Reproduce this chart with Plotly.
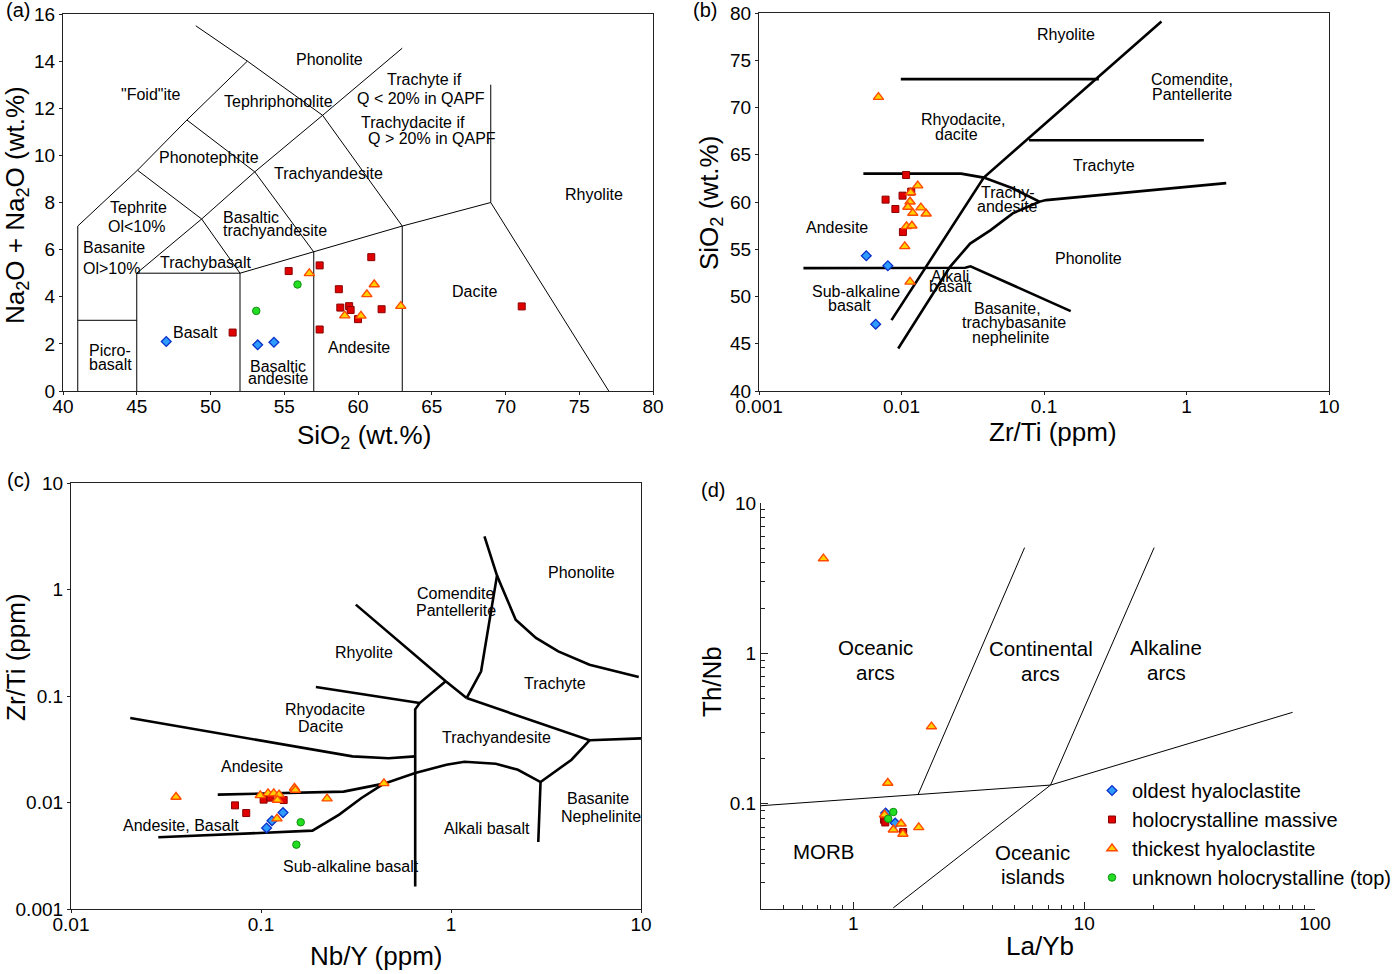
import numpy as np
import plotly.graph_objects as go

W, H = 1400, 974
FONT = "Liberation Sans, Arial, Helvetica, sans-serif"

# ---------------- Panel (a): TAS  (SiO2 vs Na2O+K2O) ----------------
a_oldest_x = [47.0, 53.2, 54.3]
a_oldest_y = [2.10, 1.96, 2.07]
a_massive_x = [51.5, 55.3, 57.4, 60.9, 58.7, 58.8, 59.4, 59.5, 60.0, 61.6, 57.4, 71.1]
a_massive_y = [2.48, 5.09, 5.33, 5.68, 4.32, 3.54, 3.60, 3.44, 3.05, 3.47, 2.61, 3.59]
a_thick_x = [56.7, 61.1, 60.6, 62.9, 59.1, 60.2]
a_thick_y = [4.99, 4.52, 4.10, 3.60, 3.20, 3.19]
a_unknown_x = [55.9, 53.1]
a_unknown_y = [4.52, 3.40]

a_lines = [
    [(41, 0), (41, 7), (45.05, 9.37), (48.4, 11.5), (52.5, 14.0), (57.6, 11.7), (63, 7), (63, 0)],
    [(49.0, 15.5), (52.5, 14.0)],
    [(41, 3), (45, 3)],
    [(45, 0), (45, 5), (52, 5), (52, 0)],
    [(45, 5), (49.4, 7.3), (52, 5)],
    [(45.05, 9.37), (49.4, 7.3)],
    [(49.4, 7.3), (53, 9.3), (57.6, 11.7), (63, 14.55)],
    [(48.4, 11.5), (53, 9.3), (57, 5.9)],
    [(52, 5), (57, 5.9), (63, 7), (69, 8), (77.0, 0)],
    [(57, 5.9), (57, 0)],
    [(69, 8), (69, 13)],
]
a_labels = [
    ("Phonolite", 58.1, 14.06, "center"), ("Trachyte if", 64.5, 13.2, "center"),
    ("Q &lt; 20% in QAPF", 64.3, 12.4, "center"), ("Trachydacite if", 63.7, 11.4, "center"),
    ("Q &gt; 20% in QAPF", 65.0, 10.7, "center"), ('"Foid"ite', 45.9, 12.6, "center"),
    ("Tephriphonolite", 54.6, 12.3, "center"), ("Phonotephrite", 49.9, 9.93, "center"),
    ("Trachyandesite", 58.0, 9.25, "center"), ("Rhyolite", 76.0, 8.36, "center"),
    ("Tephrite", 45.1, 7.78, "center"), ("Ol&lt;10%", 45.0, 6.97, "center"),
    ("Basaltic", 50.7, 7.38, "left"), ("trachyandesite", 50.7, 6.83, "left"),
    ("Basanite", 41.2, 6.1, "left"), ("Ol&gt;10%", 41.2, 5.2, "left"),
    ("Trachybasalt", 49.7, 5.46, "center"), ("Dacite", 67.9, 4.24, "center"),
    ("Basalt", 49.0, 2.47, "center"), ("Andesite", 60.1, 1.84, "center"),
    ("Picro-", 43.2, 1.70, "center"), ("basalt", 43.2, 1.13, "center"),
    ("Basaltic", 54.6, 1.05, "center"), ("andesite", 54.6, 0.51, "center"),
]

# ---------------- Panel (b): Zr/Ti vs SiO2 ----------------
b_oldest_x = [0.00566, 0.00802, 0.00659]
b_oldest_y = [54.31, 53.25, 47.07]
b_massive_x = [0.01077, 0.0117, 0.01017, 0.00773, 0.00906, 0.01023]
b_massive_y = [62.86, 61.1, 60.67, 60.25, 59.26, 56.82]
b_thick_x = [0.00689, 0.0130, 0.01159, 0.01148, 0.01109, 0.01368, 0.0120, 0.0149, 0.01084, 0.01183, 0.01054, 0.01148]
b_thick_y = [71.1, 61.73, 61.0, 60.03, 59.47, 59.4, 58.83, 58.76, 57.42, 57.49, 55.3, 51.55]

b_lines = [
    [(0.00989, 73.0), (0.2426, 73.0)],
    [(0.0785, 66.54), (1.324, 66.54)],
    [(0.667, 79.1), (0.0378, 62.58), (0.00851, 47.5)],
    [(0.0054, 63.0), (0.0262, 63.0), (0.0378, 62.58), (0.0602, 61.45), (0.0929, 60.03),
     (0.1035, 60.2), (1.90, 62.0)],
    [(0.0929, 60.03), (0.08, 59.6), (0.0603, 58.8), (0.042, 57.0), (0.0303, 55.6),
     (0.0219, 53.14), (0.00948, 44.49)],
    [(0.00205, 53.0), (0.028, 53.05), (0.0305, 53.2), (0.154, 48.45)],
]
b_labels = [
    ("Rhyolite", 0.143, 77.70), ("Comendite,", 1.10, 72.93), ("Pantellerite", 1.10, 71.38),
    ("Rhyodacite,", 0.0272, 68.69), ("dacite", 0.0244, 67.17), ("Trachyte", 0.264, 63.85),
    ("Trachy-", 0.0558, 60.99), ("andesite", 0.0558, 59.51), ("Andesite", 0.00354, 57.28),
    ("Phonolite", 0.205, 53.99), ("Alkali", 0.0219, 52.16), ("basalt", 0.0219, 51.02),
    ("Sub-alkaline", 0.0048, 50.57), ("basalt", 0.0043, 49.05), ("Basanite,", 0.0558, 48.73),
    ("trachybasanite", 0.0614, 47.2), ("nephelinite", 0.0588, 45.65),
]

# ---------------- Panel (c): Nb/Y vs Zr/Ti ----------------
c_oldest_x = [0.107, 0.1142, 0.1306]
c_oldest_y = [0.00577, 0.00675, 0.00804]
c_massive_x = [0.0730, 0.0836, 0.1032, 0.112, 0.1316]
c_massive_y = [0.0094, 0.00796, 0.01064, 0.0111, 0.01055]
c_thick_x = [0.0357, 0.0991, 0.1089, 0.1167, 0.1245, 0.122, 0.150, 0.1517, 0.2228, 0.4436, 0.1214]
c_thick_y = [0.01127, 0.01167, 0.01219, 0.01219, 0.01185, 0.01055, 0.01368, 0.0131, 0.01087, 0.01513, 0.00705]
c_unknown_x = [0.1618, 0.1535]
c_unknown_y = [0.00652, 0.00402]

c_lines = [
    [(0.0205, 0.0621), (0.121, 0.0356), (0.303, 0.0271), (0.469, 0.026), (0.648, 0.0271)],
    [(0.1945, 0.1217), (0.684, 0.0859)],
    [(0.648, 0.00163), (0.648, 0.075), (0.684, 0.0859), (0.938, 0.1374)],
    [(0.3155, 0.721), (0.938, 0.1374), (1.208, 0.0957)],
    [(1.208, 0.0957), (5.36, 0.0384), (10.0, 0.040)],
    [(1.5, 3.15), (1.746, 1.35), (1.63, 0.647), (1.44, 0.1706), (1.208, 0.0957)],
    [(1.746, 1.35), (2.19, 0.521), (2.8, 0.351), (3.67, 0.2626), (5.36, 0.197), (9.73, 0.1507)],
    [(0.0592, 0.01186), (0.272, 0.01265), (0.4436, 0.01503), (0.648, 0.0189), (0.946, 0.0226),
     (1.177, 0.0241), (1.72, 0.0231), (2.25, 0.0203), (2.96, 0.01556), (4.31, 0.0252), (5.36, 0.0384)],
    [(2.96, 0.01556), (2.88, 0.00426)],
    [(0.0288, 0.00471), (0.1866, 0.00544), (0.258, 0.00769), (0.338, 0.01102), (0.4436, 0.01503)],
]
c_labels = [
    ("Phonolite", 4.89, 1.43), ("Comendite", 1.057, 0.914), ("Pantellerite", 1.057, 0.632),
    ("Rhyolite", 0.3476, 0.2535), ("Trachyte", 3.52, 0.1297), ("Rhyodacite", 0.216, 0.0755),
    ("Dacite", 0.2047, 0.0519), ("Trachyandesite", 1.746, 0.0404), ("Andesite", 0.0897, 0.0219),
    ("Basanite", 5.97, 0.0108), ("Nephelinite", 6.13, 0.00741), ("Andesite, Basalt", 0.0377, 0.00605),
    ("Alkali basalt", 1.54, 0.00564), ("Sub-alkaline basalt", 0.296, 0.00248),
]

# ---------------- Panel (d): La/Yb vs Th/Nb ----------------
d_oldest_x = [1.38, 1.518]
d_oldest_y = [0.0867, 0.0744]
d_massive_x = [1.357, 1.375, 1.644]
d_massive_y = [0.0783, 0.0751, 0.0649]
d_thick_x = [0.742, 2.18, 1.41, 1.365, 1.61, 1.49, 1.92, 1.64]
d_thick_y = [4.27, 0.326, 0.1374, 0.0845, 0.0736, 0.0672, 0.0696, 0.0629]
d_unknown_x = [1.49, 1.416]
d_unknown_y = [0.0881, 0.0795]

d_lines = [
    [(0.398, 0.0970), (1.906, 0.1148), (7.15, 0.1331), (80.0, 0.4055)],
    [(1.906, 0.1148), (5.52, 5.05)],
    [(7.15, 0.1331), (20.1, 5.05)],
    [(7.15, 0.1331), (1.49, 0.0203)],
]
d_labels = [
    ("Oceanic", 1.249, 1.09), ("arcs", 1.249, 0.748), ("Continental", 6.48, 1.07),
    ("arcs", 6.48, 0.73), ("Alkaline", 22.7, 1.09), ("arcs", 22.7, 0.748),
    ("MORB", 0.743, 0.0483), ("Oceanic", 5.98, 0.0471), ("islands", 5.98, 0.0326),
]

# ---------------- styles ----------------
SERIES = ["oldest hyaloclastite", "holocrystalline massive", "thickest hyaloclastite",
          "unknown holocrystalline (top)"]
STYLE = {
    SERIES[0]: dict(symbol="diamond", size=7.5, color="#2e9cff", line=dict(color="#0a2fc8", width=1.3)),
    SERIES[1]: dict(symbol="square", size=7, color="#e00000", line=dict(color="#8b0000", width=1)),
    SERIES[2]: dict(symbol="triangle-up", size=9, color="#ffd000", line=dict(color="#ff4a00", width=1.4)),
    SERIES[3]: dict(symbol="circle", size=7.5, color="#22dd22", line=dict(color="#0f8f0f", width=1)),
}

fig = go.Figure()


def add_lines(lines, xa, ya, width):
    for seg in lines:
        fig.add_trace(go.Scatter(x=[p[0] for p in seg], y=[p[1] for p in seg], mode="lines",
                                 line=dict(color="black", width=width), xaxis=xa, yaxis=ya,
                                 showlegend=False, hoverinfo="skip"))


def add_points(series_data, xa, ya, legend):
    for name, (xs, ys) in series_data:
        fig.add_trace(go.Scatter(x=xs, y=ys, mode="markers", name=name, marker=STYLE[name],
                                 xaxis=xa, yaxis=ya, showlegend=legend, legendgroup=name))


add_lines(a_lines, "x", "y", 1.0)
add_lines(b_lines, "x2", "y2", 2.6)
add_lines(c_lines, "x3", "y3", 2.6)
add_lines(d_lines, "x4", "y4", 1.0)

add_points([(SERIES[0], (a_oldest_x, a_oldest_y)), (SERIES[1], (a_massive_x, a_massive_y)),
            (SERIES[2], (a_thick_x, a_thick_y)), (SERIES[3], (a_unknown_x, a_unknown_y))], "x", "y", False)
add_points([(SERIES[0], (b_oldest_x, b_oldest_y)), (SERIES[1], (b_massive_x, b_massive_y)),
            (SERIES[2], (b_thick_x, b_thick_y))], "x2", "y2", False)
add_points([(SERIES[0], (c_oldest_x, c_oldest_y)), (SERIES[1], (c_massive_x, c_massive_y)),
            (SERIES[2], (c_thick_x, c_thick_y)), (SERIES[3], (c_unknown_x, c_unknown_y))], "x3", "y3", False)
add_points([(SERIES[0], (d_oldest_x, d_oldest_y)), (SERIES[1], (d_massive_x, d_massive_y)),
            (SERIES[2], (d_thick_x, d_thick_y)), (SERIES[3], (d_unknown_x, d_unknown_y))], "x4", "y4", True)

# ---------------- annotations ----------------
ann = []


def label(text, x, y, xref, yref, size, xanchor="center"):
    ann.append(dict(text=text, x=x, y=y, xref=xref, yref=yref, showarrow=False,
                    font=dict(size=size, family=FONT, color="black"), xanchor=xanchor, yanchor="middle"))


for t, x, y, anc in a_labels:
    label(t, x, y, "x", "y", 16, anc)
for t, x, y in b_labels:
    label(t, np.log10(x), y, "x2", "y2", 16)
for t, x, y in c_labels:
    label(t, np.log10(x), np.log10(y), "x3", "y3", 16)
for t, x, y in d_labels:
    label(t, np.log10(x), np.log10(y), "x4", "y4", 20.5)


def px(xp, yp):
    return xp / W, 1 - yp / H


def paper_text(text, xp, yp, size, angle=0):
    x, y = px(xp, yp)
    ann.append(dict(text=text, x=x, y=y, xref="paper", yref="paper", showarrow=False, textangle=angle,
                    font=dict(size=size, family=FONT, color="black"), xanchor="center", yanchor="middle"))


# panel tags
paper_text("(a)", 18, 10, 20)
paper_text("(b)", 705, 10, 20)
paper_text("(c)", 18, 480, 20)
paper_text("(d)", 713, 490, 20)
# axis titles
paper_text("SiO<sub>2</sub> (wt.%)", 364, 437, 26)
paper_text("Na<sub>2</sub>O + Na<sub>2</sub>O (wt.%)", 17, 205, 26, -90)
paper_text("Zr/Ti (ppm)", 1053, 432, 26)
paper_text("SiO<sub>2</sub> (wt.%)", 710, 203, 26, -90)
paper_text("Nb/Y (ppm)", 376, 956, 26)
paper_text("Zr/Ti (ppm)", 16, 657, 26, -90)
paper_text("La/Yb", 1040, 946, 26)
paper_text("Th/Nb", 712, 682, 26, -90)

# ---------------- axes ----------------
TICKFONT = dict(size=19, family=FONT, color="black")


def dom_x(l, r):
    return [l / W, r / W]


def dom_y(t, b):
    return [1 - b / H, 1 - t / H]


box = dict(showline=True, linecolor="#222", linewidth=1.2, mirror=True, showgrid=False, zeroline=False,
           ticks="outside", ticklen=3, tickcolor="#222", tickfont=TICKFONT, automargin=False)
xbox = dict(box, ticklabelstandoff=-5)

dec_minor = lambda lo, hi: [m * 10.0 ** e for e in range(lo, hi) for m in range(2, 10)]

fig.update_layout(
    template="none",
    width=W, height=H, margin=dict(l=0, r=0, t=0, b=0, autoexpand=False),
    paper_bgcolor="white", plot_bgcolor="white",
    font=dict(family=FONT, color="black"),
    xaxis=dict(xbox, domain=dom_x(63, 653), range=[40, 80], tickvals=list(range(40, 81, 5)), anchor="y"),
    yaxis=dict(box, domain=dom_y(14, 391), range=[0, 16], tickvals=list(range(0, 17, 2)), anchor="x"),
    xaxis2=dict(xbox, domain=dom_x(759, 1329), type="log", range=[-3, 1],
                tickvals=[0.001, 0.01, 0.1, 1, 10], ticktext=["0.001", "0.01", "0.1", "1", "10"], anchor="y2"),
    yaxis2=dict(box, domain=dom_y(13, 391), range=[40, 80], tickvals=list(range(40, 81, 5)), anchor="x2"),
    xaxis3=dict(xbox, domain=dom_x(71, 641), type="log", range=[-2, 1],
                tickvals=[0.01, 0.1, 1, 10], ticktext=["0.01", "0.1", "1", "10"], anchor="y3"),
    yaxis3=dict(box, domain=dom_y(483, 909), type="log", range=[-3, 1],
                tickvals=[0.001, 0.01, 0.1, 1, 10], ticktext=["0.001", "0.01", "0.1", "1", "10"], anchor="x3"),
    xaxis4=dict(domain=dom_x(761, 1315), type="log", range=[-0.4, 2], anchor="y4", automargin=False,
                showline=True, linecolor="#222", linewidth=1.2, mirror=False, showgrid=False, zeroline=False,
                ticks="inside", ticklen=7, tickcolor="#222", tickfont=TICKFONT, ticklabelstandoff=-3,
                tickvals=[1, 10, 100], ticktext=["1", "10", "100"],
                minor=dict(ticks="inside", ticklen=4, tickcolor="#222", showgrid=False,
                           tickvals=[0.5, 0.6, 0.7, 0.8, 0.9] + dec_minor(0, 2))),
    yaxis4=dict(domain=dom_y(503, 909), type="log", range=[-1.7, 1], anchor="x4", automargin=False,
                showline=True, linecolor="#222", linewidth=1.2, mirror=False, showgrid=False, zeroline=False,
                ticks="inside", ticklen=7, tickcolor="#222", tickfont=TICKFONT,
                tickvals=[0.1, 1, 10], ticktext=["0.1", "1", "10"],
                minor=dict(ticks="inside", ticklen=4, tickcolor="#222", showgrid=False,
                           tickvals=dec_minor(-2, 1))),
    legend=dict(x=1092 / W, y=1 - 771 / H, xanchor="left", yanchor="top", bgcolor="rgba(0,0,0,0)",
                font=dict(size=20, family=FONT, color="black"), tracegroupgap=0, itemclick=False),
    annotations=ann,
    showlegend=True,
)

fig.write_html("out.html", config={"displayModeBar": False},
               post_script="document.body.style.margin='0';document.body.style.padding='0';"
                           "document.documentElement.style.overflow='hidden';")
